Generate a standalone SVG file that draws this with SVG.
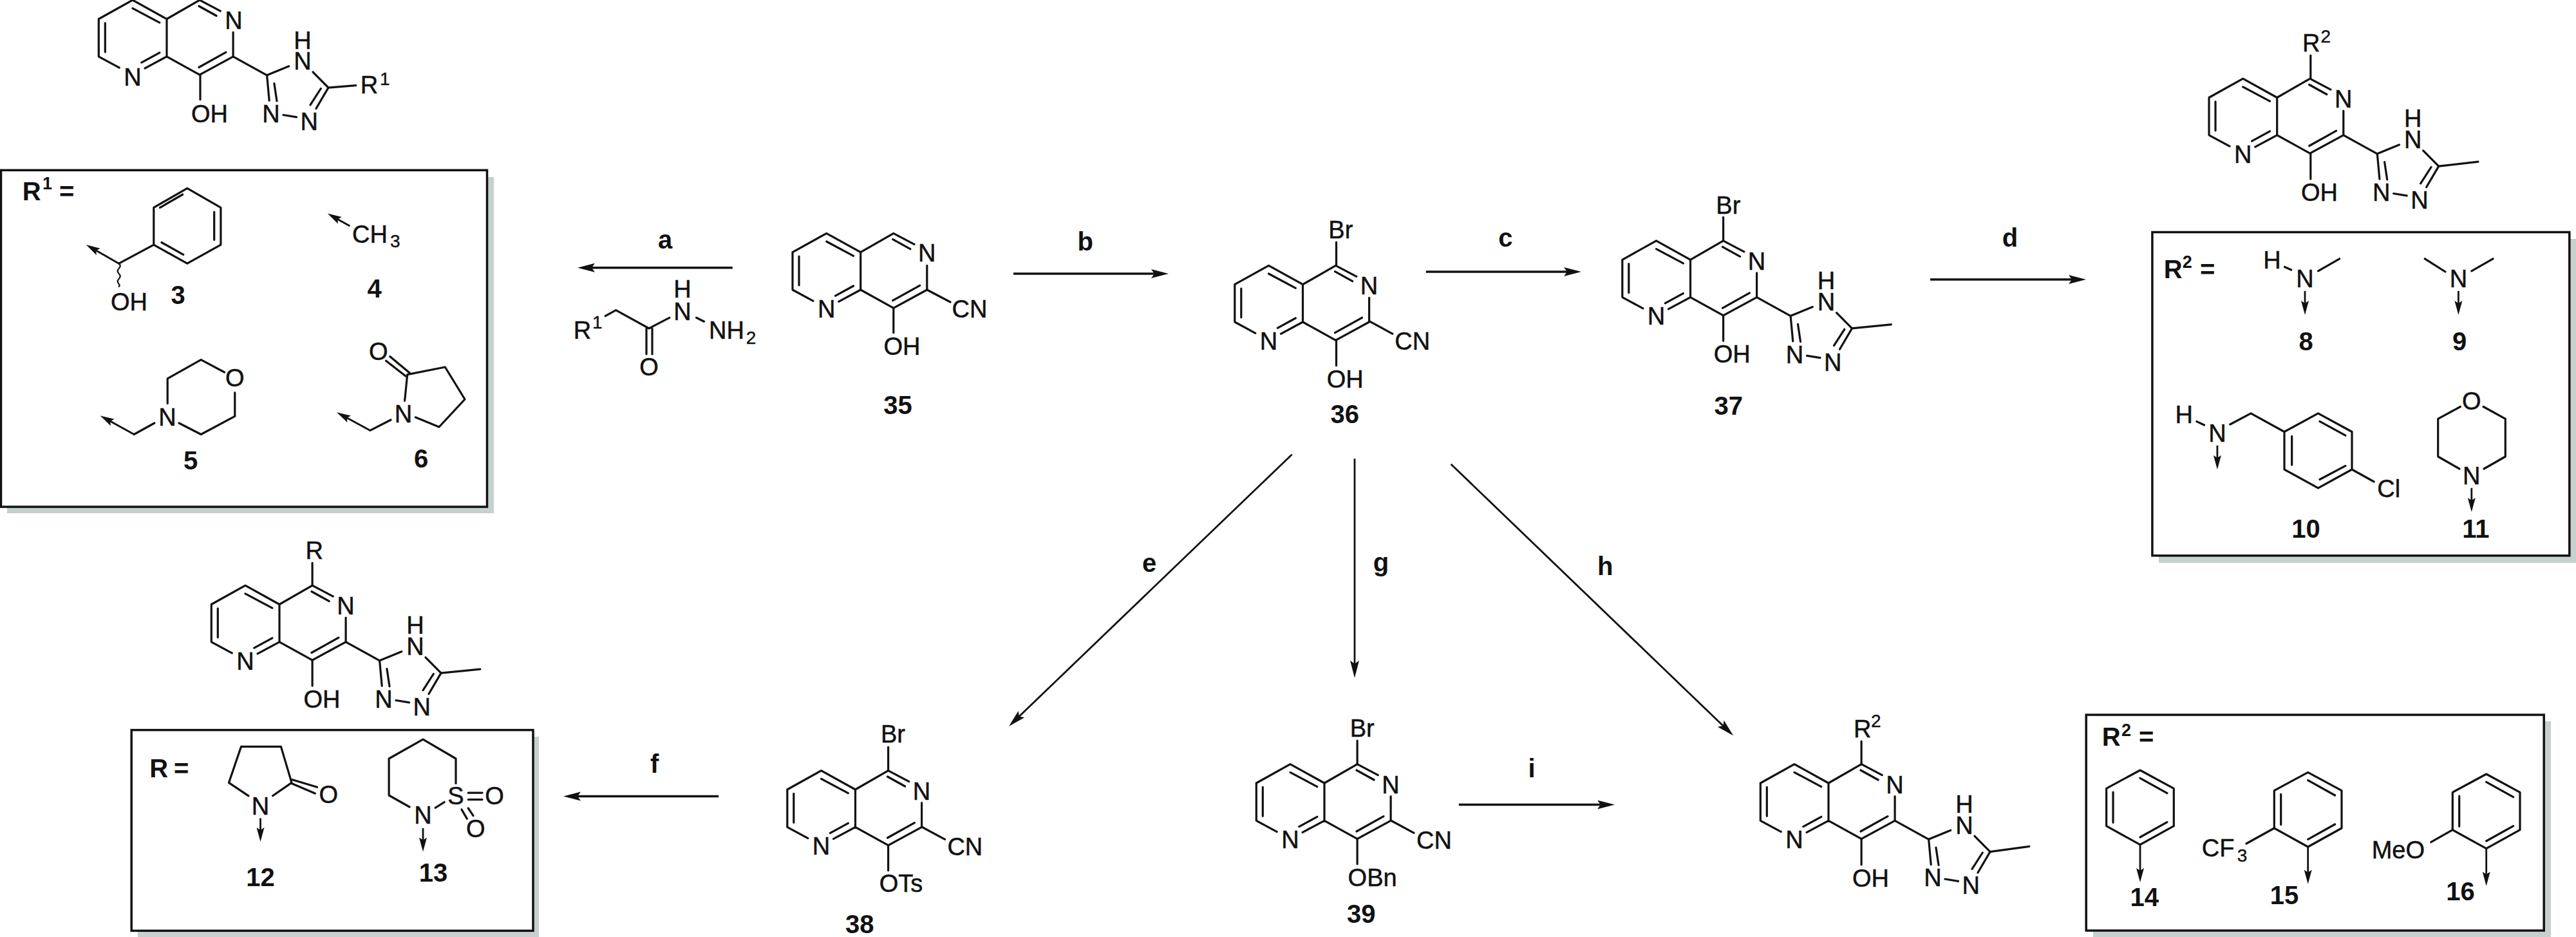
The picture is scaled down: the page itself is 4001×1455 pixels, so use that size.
<svg xmlns="http://www.w3.org/2000/svg" width="4001" height="1455" viewBox="0 0 4001 1455">
<style>
text{font-family:"Liberation Sans",Arial,sans-serif;fill:#111}
.a{font-size:38px;stroke:#111;stroke-width:.5}
.s{font-size:28px;stroke:#111;stroke-width:.4}
.b{font-size:40px;font-weight:bold}
.bs{font-size:27px;font-weight:bold}
.c{text-anchor:middle}
.bond{fill:none;stroke:#111;stroke-width:3.2;stroke-linecap:round;stroke-linejoin:round}
.arrow{fill:none;stroke:#111;stroke-width:3.5}
.thin{fill:none;stroke:#111;stroke-width:2.8}
.box{fill:#fff;stroke:#111;stroke-width:3.5}
.shadow{fill:#c6d0ce}
</style>
<defs>
<marker id="big" markerUnits="userSpaceOnUse" markerWidth="30" markerHeight="16" refX="19" refY="7" orient="auto"><path d="M27,7 L0,14 L5,7 L0,0 Z" fill="#111"/></marker>
<marker id="small" markerUnits="userSpaceOnUse" markerWidth="26" markerHeight="14" refX="14" refY="6" orient="auto"><path d="M22,6 L0,12 L4,6 L0,0 Z" fill="#111"/></marker>
<path id="core" class="bond" d="M-105.7,0 L-53,-29.4 L0,0 L0,58.3 M-105.7,0 L-105.7,58.3 L-73.7,75.6 M-34,76.6 L0,58.3 M-39.2,67.6 L-11.2,52.3 M-53,-16.7 L-11.2,5.6 M-95.7,6.3 L-95.7,51.3 M0,0 L51.1,-29.4 L83.3,-12.4 M50,-20 L77.1,-5 M103.1,20.6 L103.1,58.3 L51.1,86.6 L0,58.3 M91.9,51.6 L50,75"/>
<path id="tz" class="bond" d="M0,0 L52.5,29 L86.7,15 M123.9,24 L147.9,48.3 L128.9,80.7 M136.2,49.7 L119.9,75 M52.5,29 L56.1,68.3 M63.8,41.7 L67.9,69 M77.9,90.7 L98.5,94"/>
<path id="ph" class="bond" d="M3271.6,1224.3 L3324,1196 L3376.3,1224.3 L3376.3,1282.7 L3324,1311.7 L3271.6,1282.7 Z M3282,1230 L3282,1277.3 M3324,1208.3 L3365.9,1231.7 M3324,1300 L3365.9,1276.7"/>
</defs>

<g id="connectors">
<line class="arrow" x1="1137.8" y1="415.7" x2="905" y2="415.7" marker-end="url(#big)"/>
<line class="arrow" x1="1574" y1="425" x2="1807" y2="425" marker-end="url(#big)"/>
<line class="arrow" x1="2214.8" y1="422" x2="2448" y2="422" marker-end="url(#big)"/>
<line class="arrow" x1="2998" y1="434" x2="3232" y2="434" marker-end="url(#big)"/>
<line class="arrow" x1="1116.2" y1="1236.6" x2="883" y2="1236.6" marker-end="url(#big)"/>
<line class="arrow" x1="2265.8" y1="1249.6" x2="2500" y2="1249.6" marker-end="url(#big)"/>
<line class="thin" x1="2006.6" y1="705.7" x2="1572.8" y2="1122.2" marker-end="url(#big)"/>
<line class="thin" x1="2104" y1="712.3" x2="2104" y2="1044.7" marker-end="url(#big)"/>
<line class="thin" x1="2253.6" y1="720.7" x2="2686.4" y2="1136.8" marker-end="url(#big)"/>
</g>

<g id="labels">
<text class="b c" x="1033" y="386">a</text>
<text class="b c" x="1685.7" y="389">b</text>
<text class="b c" x="2338.3" y="383.3">c</text>
<text class="b c" x="3122" y="383.3">d</text>
<text class="b c" x="1785" y="887.7">e</text>
<text class="b c" x="1016.7" y="1200.3">f</text>
<text class="b c" x="2144.9" y="886.7">g</text>
<text class="b c" x="2493.3" y="893.3">h</text>
<text class="b c" x="2379" y="1206.7">i</text>
</g>

<g id="mol-r1">
<g transform="translate(259,29.5)"><use href="#core"/><text class="a c" x="-53" y="103">N</text><text class="a c" x="104" y="15.4">N</text></g>
<g transform="translate(362.1,87.8)"><use href="#tz"/><path class="bond" d="M147.9,48.3 L190.6,44.9"/><text class="a c" x="108" y="20.5">N</text><text class="a c" x="108" y="-12">H</text><text class="a c" x="59" y="102">N</text><text class="a c" x="118.2" y="114">N</text></g>
<path class="bond" d="M311,116 L311,154.6"/>
<text class="a" x="297" y="189.8">OH</text>
<text class="a" x="559.7" y="145.4">R</text><text class="s" x="590" y="131.6">1</text>
</g>

<g id="box-r1">
<rect class="shadow" x="11" y="275" width="756" height="522"/>
<rect class="box" x="1.5" y="264.3" width="755" height="522.7"/>
<text class="b" x="34.7" y="311">R</text><text class="bs" x="66" y="294">1</text><text class="b" x="92" y="311">=</text>
<g id="sub3">
<path class="bond" d="M238.8,322.4 L290.8,292.3 L342.9,322.4 L342.9,380.1 L290.8,409.2 L238.8,380.1 Z M248.5,322.4 L283.7,302 M332.7,329 L332.7,372.4 M251,376.5 L284.7,395.4 M238.8,380.1 L184.7,409.2"/>
<line class="thin" x1="184.7" y1="409.2" x2="140.6" y2="384" marker-end="url(#small)"/>
<path class="bond" style="stroke-width:2.2" d="M184.7,409 q4,4 0,8 q-4,4 0,8 q4,4 0,8 q-4,4 0,8 q2,2 0,4"/>
<text class="a" x="172" y="482">OH</text>
<text class="b c" x="276.5" y="472">3</text>
</g>
<g id="sub4">
<line class="thin" x1="543.4" y1="351" x2="515.7" y2="335.5" marker-end="url(#small)"/>
<text class="a" x="547" y="376.5">CH</text><text class="s" x="606" y="383.7">3</text>
<text class="b c" x="581.6" y="461.7">4</text>
</g>
<g id="sub5">
<path class="bond" d="M260.2,626.5 L260.2,587.8 L312.2,558.7 L348.5,578 M364.8,609.7 L364.8,646.4 L312.2,674.5 L278,657 M239.8,657 L208.2,674.5"/>
<line class="thin" x1="208.2" y1="674.5" x2="162.6" y2="649.3" marker-end="url(#small)"/>
<text class="a c" x="260" y="660.7">N</text><text class="a c" x="364.8" y="599.5">O</text>
<text class="b c" x="296" y="728.6">5</text>
</g>
<g id="sub6">
<path class="bond" d="M599.5,560.2 L630,584 M605.6,553.6 L636.2,579 M628.6,622.4 L632.7,581.6 L691.3,570 L722,620 L682,663 L645.4,648 M607,652 L575,668.4"/>
<line class="thin" x1="575" y1="668.4" x2="530" y2="644.1" marker-end="url(#small)"/>
<text class="a c" x="587.8" y="558.7">O</text><text class="a c" x="626.5" y="655.6">N</text>
<text class="b c" x="654" y="725.5">6</text>
</g>
</g>

<g id="hydrazide">
<text class="a" x="890.8" y="526">R</text><text class="s" x="920" y="510">1</text>
<path class="bond" d="M940.3,490.7 L956.6,481.7 L1008,510 L1039.8,493.3 M1004,510 L1004,550 M1013,510 L1013,550 M1081.6,493.3 L1093.4,499.3"/>
<text class="a c" x="1008" y="583">O</text><text class="a c" x="1060" y="497">N</text><text class="a c" x="1060" y="462">H</text>
<text class="a" x="1101" y="526">NH</text><text class="s" x="1158.7" y="534">2</text>
</g>

<g id="mol35">
<g transform="translate(1336.7,391.7)"><use href="#core"/><text class="a c" x="-53" y="101">N</text><text class="a c" x="103.1" y="14.3">N</text></g>
<path class="bond" d="M1439.8,450 L1476,469 M1387.8,478.3 L1387.8,516.7"/>
<text class="a" x="1478.6" y="493">CN</text><text class="a" x="1372.4" y="551">OH</text>
<text class="b c" x="1394.4" y="642.7">35</text>
</g>

<g id="mol36">
<g transform="translate(2023.5,441.7)"><use href="#core"/><text class="a c" x="-53" y="101">N</text><text class="a c" x="103.1" y="15.6">N</text></g>
<path class="bond" d="M2075.5,376 L2075.5,412.3 M2075.5,528 L2075.5,567.7 M2128,499.3 L2162.8,518.3"/>
<text class="a" x="2063.3" y="370">Br</text><text class="a" x="2060.7" y="601.7">OH</text><text class="a" x="2166.3" y="543.3">CN</text>
<text class="b c" x="2088.8" y="657.3">36</text>
</g>

<g id="mol37">
<g transform="translate(2625.5,403.3)"><use href="#core"/><text class="a c" x="-53" y="101">N</text><text class="a c" x="103.1" y="15.6">N</text></g>
<g transform="translate(2728.6,461.6)"><use href="#tz"/><path class="bond" d="M147.9,48.3 L208.7,42.3"/><text class="a c" x="108" y="20.5">N</text><text class="a c" x="108" y="-12.7">H</text><text class="a c" x="59" y="102">N</text><text class="a c" x="118.2" y="114">N</text></g>
<path class="bond" d="M2676.6,337.3 L2676.6,374 M2676.6,490 L2676.6,529.3"/>
<text class="a" x="2665.3" y="331.7">Br</text><text class="a" x="2661.7" y="563.3">OH</text>
<text class="b c" x="2684.7" y="644.3">37</text>
</g>

<g id="mol-r2-top">
<g transform="translate(3536.7,151.5)"><use href="#core"/><text class="a c" x="-53" y="101">N</text><text class="a c" x="103.1" y="15.6">N</text></g>
<g transform="translate(3639.8,209.8)"><use href="#tz"/><path class="bond" d="M147.9,48.3 L209.2,41.4"/><text class="a c" x="108" y="20.5">N</text><text class="a c" x="108" y="-12.7">H</text><text class="a c" x="59" y="102">N</text><text class="a c" x="118.2" y="114">N</text></g>
<path class="bond" d="M3588.8,86 L3588.8,122.3 M3588.8,238.2 L3588.8,278"/>
<text class="a" x="3576" y="80.4">R</text><text class="s" x="3604.5" y="66">2</text><text class="a" x="3574" y="311.7">OH</text>
</g>

<g id="box-r2-top">
<rect class="shadow" x="3353" y="371" width="648" height="503"/>
<rect class="box" x="3342.9" y="360.5" width="647.9" height="502.3"/>
<text class="b" x="3360.7" y="432.3">R</text><text class="bs" x="3389.8" y="416">2</text><text class="b" x="3417" y="432.3">=</text>
<g id="sub8">
<text class="a" x="3515.3" y="417.3">H</text>
<path class="bond" d="M3548.5,414.5 L3558.7,419 M3600.5,420.8 L3633.7,401.8"/>
<text class="a c" x="3580" y="446">N</text>
<line class="thin" x1="3580" y1="451.8" x2="3580" y2="481" marker-end="url(#small)"/>
<text class="b c" x="3581.6" y="544">8</text>
</g>
<g id="sub9">
<path class="bond" d="M3798,422 L3766.3,401.8 M3838.8,420.8 L3872,401.8"/>
<text class="a c" x="3818.4" y="446">N</text>
<line class="thin" x1="3818.4" y1="451.8" x2="3818.4" y2="481" marker-end="url(#small)"/>
<text class="b c" x="3820" y="544">9</text>
</g>
<g id="sub10">
<text class="a" x="3378.6" y="657.3">H</text>
<path class="bond" d="M3411.7,654.4 L3423.5,660 M3463.8,659 L3496,641.8 L3548,670.5 M3548,670.5 L3600.5,641.8 L3653,670.5 L3653,729 L3600.5,757.8 L3548,729 Z M3559.7,677.4 L3559.7,722 M3603,654.4 L3642.9,676.2 M3603,744.5 L3642.9,723.3 M3653,729 L3687.2,748"/>
<text class="a c" x="3443.9" y="686">N</text>
<line class="thin" x1="3443.9" y1="691.7" x2="3443.9" y2="721" marker-end="url(#small)"/>
<text class="a" x="3692.3" y="772">Cl</text>
<text class="b c" x="3581.6" y="835">10</text>
</g>
<g id="sub11">
<path class="bond" d="M3821.4,631.5 L3786.7,650.4 L3786.7,709 L3820,728 M3857.1,631.5 L3891.3,650.4 L3891.3,709 L3858,728"/>
<text class="a c" x="3838.8" y="636">O</text><text class="a c" x="3838.8" y="752">N</text>
<line class="thin" x1="3838.8" y1="757.8" x2="3838.8" y2="787" marker-end="url(#small)"/>
<text class="b c" x="3845.4" y="835">11</text>
</g>
</g>

<g id="mol-r">
<g transform="translate(434,938.5)"><use href="#core"/><text class="a c" x="-53" y="101">N</text><text class="a c" x="103.1" y="15.6">N</text></g>
<g transform="translate(537.1,996.8)"><use href="#tz"/><path class="bond" d="M147.9,48.3 L208.7,42.3"/><text class="a c" x="108" y="20.5">N</text><text class="a c" x="108" y="-12.7">H</text><text class="a c" x="59" y="102">N</text><text class="a c" x="118.2" y="114">N</text></g>
<path class="bond" d="M485.1,874 L485.1,909.1 M485.1,1025 L485.1,1065"/>
<text class="a" x="474.6" y="868">R</text><text class="a" x="471.5" y="1098.8">OH</text>
</g>

<g id="box-r">
<rect class="shadow" x="214" y="1144" width="623" height="311"/>
<rect class="box" x="204.2" y="1133.6" width="623.8" height="311.7"/>
<text class="b" x="232.3" y="1206.9">R</text><text class="b" x="270" y="1206.9">=</text>
<g id="sub12">
<path class="bond" d="M386,1235.8 L355.4,1215.4 L374.5,1159.4 L436.4,1159.4 L453,1215.4 L423.6,1235.8 M454.2,1210.7 L492.5,1222.3 M453,1216.5 L489.3,1232"/>
<text class="a c" x="404.5" y="1264.7">N</text><text class="a c" x="510.4" y="1247.4">O</text>
<line class="thin" x1="404.5" y1="1270.5" x2="404.5" y2="1299" marker-end="url(#small)"/>
<text class="b c" x="404.5" y="1375.5">12</text>
</g>
<g id="sub13">
<path class="bond" d="M636,1253 L604.1,1235 L604.1,1178 L657,1148.2 L708,1178 L708,1216.5 M676.2,1254.3 L690.2,1245.5 M727.2,1231.2 L749,1231.2 M727.2,1241.6 L749,1241.6 M717,1257 L725.3,1271.3 M727.2,1255 L735,1266.7"/>
<text class="a c" x="657" y="1279">N</text><text class="a c" x="708" y="1249.3">S</text><text class="a c" x="768" y="1249.3">O</text><text class="a c" x="738.7" y="1299.5">O</text>
<line class="thin" x1="657" y1="1286" x2="657" y2="1314.6" marker-end="url(#small)"/>
<text class="b c" x="673" y="1369">13</text>
</g>
</g>

<g id="mol38">
<g transform="translate(1328.5,1226)"><use href="#core"/><text class="a c" x="-53" y="101">N</text><text class="a c" x="103.1" y="15.6">N</text></g>
<path class="bond" d="M1379.6,1160 L1379.6,1196.7 M1379.6,1312.7 L1379.6,1351.7 M1431.6,1284 L1467.6,1303.3"/>
<text class="a" x="1368" y="1153.3">Br</text><text class="a" x="1365.8" y="1385">OTs</text><text class="a" x="1471.4" y="1327.7">CN</text>
<text class="b c" x="1335.2" y="1449.3">38</text>
</g>

<g id="mol39">
<g transform="translate(2057,1216)"><use href="#core"/><text class="a c" x="-53" y="101">N</text><text class="a c" x="103.1" y="15.6">N</text></g>
<path class="bond" d="M2108.1,1150 L2108.1,1186.7 M2108.1,1302.7 L2108.1,1341.7 M2160.1,1274 L2196,1293.3"/>
<text class="a" x="2096.7" y="1144.3">Br</text><text class="a" x="2093.6" y="1376">OBn</text><text class="a" x="2200" y="1317.7">CN</text>
<text class="b c" x="2114.3" y="1433.3">39</text>
</g>

<g id="mol-r2-bottom">
<g transform="translate(2840,1216)"><use href="#core"/><text class="a c" x="-53" y="101">N</text><text class="a c" x="103.1" y="15.6">N</text></g>
<g transform="translate(2943.1,1274.3)"><use href="#tz"/><path class="bond" d="M147.9,48.3 L208.7,40"/><text class="a c" x="108" y="20.5">N</text><text class="a c" x="108" y="-12.7">H</text><text class="a c" x="59" y="102">N</text><text class="a c" x="118.2" y="114">N</text></g>
<path class="bond" d="M2891.1,1151 L2891.1,1187 M2891.1,1303 L2891.1,1342.7"/>
<text class="a" x="2879" y="1145">R</text><text class="s" x="2906" y="1129">2</text><text class="a" x="2877" y="1376.7">OH</text>
</g>

<g id="box-r2-bottom">
<rect class="shadow" x="3251" y="1120" width="711" height="335"/>
<rect class="box" x="3240.2" y="1110" width="711" height="335"/>
<text class="b" x="3264.8" y="1158.3">R</text><text class="bs" x="3295" y="1143.3">2</text><text class="b" x="3322" y="1158.3">=</text>
<g id="sub14">
<use href="#ph"/>
<line class="thin" x1="3324" y1="1311.7" x2="3324" y2="1362" marker-end="url(#small)"/>
<text class="b c" x="3330.8" y="1407.3">14</text>
</g>
<g id="sub15">
<use href="#ph" transform="translate(260.7,3.3)"/>
<path class="bond" d="M3532.3,1286 L3488.9,1310"/>
<line class="thin" x1="3584.7" y1="1315" x2="3584.7" y2="1364.7" marker-end="url(#small)"/>
<text class="a" x="3419.8" y="1330">CF</text><text class="s" x="3474.8" y="1338.3">3</text>
<text class="b c" x="3548" y="1404">15</text>
</g>
<g id="sub16">
<use href="#ph" transform="translate(537.7,6)"/>
<path class="bond" d="M3809.3,1288.7 L3775.8,1307.7"/>
<line class="thin" x1="3861.7" y1="1317.7" x2="3861.7" y2="1367.7" marker-end="url(#small)"/>
<text class="a" x="3683.7" y="1333.3">MeO</text>
<text class="b c" x="3821.4" y="1398.3">16</text>
</g>
</g>
</svg>
